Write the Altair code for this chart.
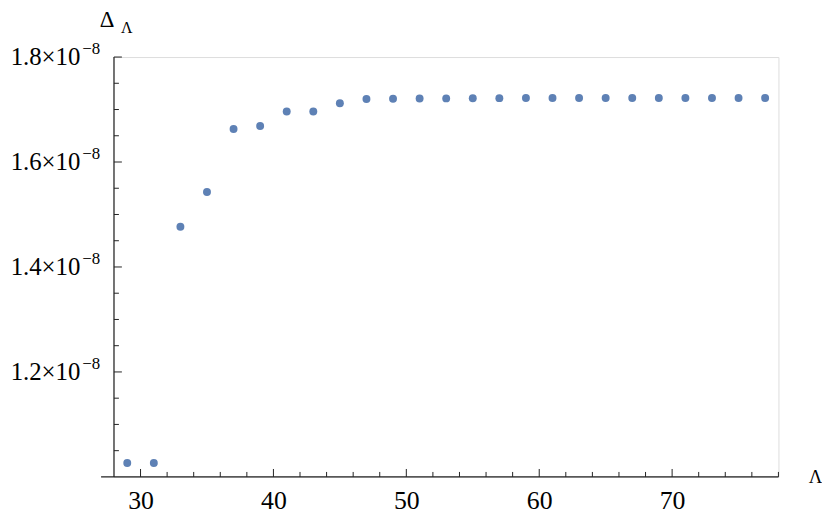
import altair as alt
import pandas as pd

# Data
lam = [29, 31, 33, 35, 37, 39, 41, 43, 45, 47, 49, 51, 53, 55, 57, 59, 61, 63, 65, 67, 69, 71, 73, 75, 77]
delta_e8 = [1.0264, 1.0264, 1.4768, 1.5428, 1.6628, 1.6685, 1.6962, 1.6962, 1.7119, 1.7200, 1.7205,
            1.7210, 1.7212, 1.7215, 1.7217, 1.7218, 1.7220, 1.7220, 1.7220, 1.7220, 1.7220, 1.7220,
            1.7220, 1.7220, 1.7220]
x_major = [30, 40, 50, 60, 70]
x_minor = [32, 34, 36, 38, 42, 44, 46, 48, 52, 54, 56, 58, 62, 64, 66, 68, 72, 74, 76, 78]
y_major_e8 = [1.2, 1.4, 1.6, 1.8]
y_major_text = ["1.2×10", "1.4×10", "1.6×10", "1.8×10"]
y_exp_text = ["−8", "−8", "−8", "−8"]
y_minor_e8 = [1.05, 1.1, 1.15, 1.25, 1.3, 1.35, 1.45, 1.5, 1.55, 1.65, 1.7, 1.75]

W, H = 671, 424
FONT = "Liberation Serif"
AX = "#222222"

df = pd.DataFrame({"lam": lam, "delta": [v * 1e-8 for v in delta_e8]})
xs = alt.Scale(domain=[28, 78], nice=False, zero=False)
ys = alt.Scale(domain=[1.0e-8, 1.8e-8], nice=False, zero=False)

xaxis = alt.Axis(
    values=x_major, domain=False, ticks=False, grid=False, labelFont=FONT, labelFontSize=26,
    labelColor="#000", labelPadding=11, title="Λ", titleFont=FONT, titleFontSize=19,
    titleFontWeight="normal", titleColor="#000", titleX=708, titleY=6,
    titleBaseline="alphabetic", titleAlign="center")

points = alt.Chart(df).mark_circle(size=64, color="#5E81B5", opacity=1).encode(
    x=alt.X("lam:Q", scale=xs, axis=xaxis),
    y=alt.Y("delta:Q", scale=ys, axis=None),
)

ylab_df = pd.DataFrame({"v": [v * 1e-8 for v in y_major_e8], "t": y_major_text, "e": y_exp_text})
ylab = alt.Chart(ylab_df).mark_text(
    font=FONT, fontSize=25, color="#000", align="right", baseline="alphabetic", dy=8).encode(
    y=alt.Y("v:Q", scale=ys, axis=None), x=alt.value(-34), text="t:N")
yexp = alt.Chart(ylab_df).mark_text(
    font=FONT, fontSize=17, color="#000", align="left", baseline="alphabetic", dy=-3).encode(
    y=alt.Y("v:Q", scale=ys, axis=None), x=alt.value(-32), text="e:N")

xmaj = alt.Chart(pd.DataFrame({"v": x_major})).mark_rule(color=AX, strokeWidth=1).encode(
    x=alt.X("v:Q", scale=xs, axis=xaxis), y=alt.value(H), y2=alt.value(H - 8))
xmin = alt.Chart(pd.DataFrame({"v": x_minor})).mark_rule(color=AX, strokeWidth=1).encode(
    x=alt.X("v:Q", scale=xs, axis=xaxis), y=alt.value(H), y2=alt.value(H - 5))
ymaj = alt.Chart(pd.DataFrame({"v": [v * 1e-8 for v in y_major_e8]})).mark_rule(color=AX, strokeWidth=1).encode(
    y=alt.Y("v:Q", scale=ys, axis=None), x=alt.value(0), x2=alt.value(8))
ymin = alt.Chart(pd.DataFrame({"v": [v * 1e-8 for v in y_minor_e8]})).mark_rule(color=AX, strokeWidth=1).encode(
    y=alt.Y("v:Q", scale=ys, axis=None), x=alt.value(0), x2=alt.value(5))
xline = alt.Chart(pd.DataFrame({"a": [0]})).mark_rule(color=AX, strokeWidth=1.2).encode(
    x=alt.value(-13), x2=alt.value(W), y=alt.value(H))
yline = alt.Chart(pd.DataFrame({"a": [0]})).mark_rule(color=AX, strokeWidth=1.2).encode(
    x=alt.value(0), y=alt.value(0), y2=alt.value(H))
title_main = alt.Chart(pd.DataFrame({"a": [0]})).mark_text(
    text="Δ", font=FONT, fontSize=23, color="#000", align="center", baseline="alphabetic").encode(
    x=alt.value(-7), y=alt.value(-30))
title_sub = alt.Chart(pd.DataFrame({"a": [0]})).mark_text(
    text="Λ", font=FONT, fontSize=16, color="#000", align="center", baseline="alphabetic").encode(
    x=alt.value(13), y=alt.value(-24))

chart = alt.layer(xline, yline, xmin, xmaj, ymin, ymaj, points, ylab, yexp, title_main, title_sub).properties(
    width=W, height=H,
    autosize=alt.AutoSizeParams(type="none"),
    padding={"left": 107, "top": 47, "right": 44, "bottom": 42},
).configure_view(stroke=None).configure(background="white")

chart.save("out.html", embed_options={"renderer": "svg", "actions": False})
